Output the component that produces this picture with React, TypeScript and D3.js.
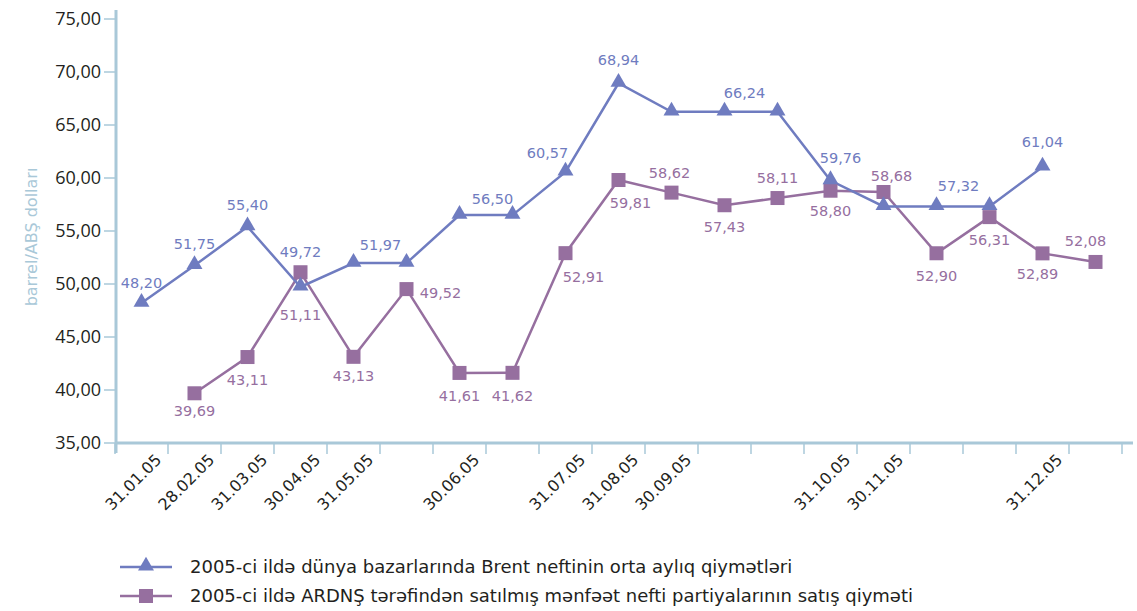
import * as d3 from "d3";
import React from "react";

const categories = [
  "31.01.05", "28.02.05", "31.03.05", "30.04.05", "31.05.05", "",
  "30.06.05", "", "31.07.05", "31.08.05", "30.09.05", "", "",
  "31.10.05", "30.11.05", "", "", "31.12.05", "",
];

// Brent monthly average (no value for the last slot)
const brent = [
  48.2, 51.75, 55.4, 49.72, 51.97, 51.97, 56.5, 56.5, 60.57, 68.94,
  66.24, 66.24, 66.24, 59.76, 57.32, 57.32, 57.32, 61.04, null,
];

// ARDNS selling price (no value for the first slot)
const ardns = [
  null, 39.69, 43.11, 51.11, 43.13, 49.52, 41.61, 41.62, 52.91, 59.81,
  58.62, 57.43, 58.11, 58.8, 58.68, 52.9, 56.31, 52.89, 52.08,
];

const yTicks = [35, 40, 45, 50, 55, 60, 65, 70, 75];

const seriesNames = [
  "2005-ci ildə dünya bazarlarında Brent neftinin orta aylıq qiymətləri",
  "2005-ci ildə ARDNŞ tərəfindən satılmış mənfəət nefti partiyalarının satış qiyməti",
];

// label placement: [point index, dx, dy]
const brentLabelPos = [
  [0, 0, -20], [1, 0, -22], [2, 0, -22], [3, 0, -35], [4, 27, -18],
  [6, 33, -16], [8, -18, -19], [9, 0, -23], [11, 20, -19], [13, 10, -23],
  [15, 22, -20], [17, 0, -25],
];
const ardnsLabelPos = [
  [1, 0, 18], [2, 0, 23], [3, 0, 43], [4, 0, 19], [5, 34, 4], [6, 0, 23],
  [7, 0, 23], [8, 18, 24], [9, 12, 23], [10, -2, -20], [11, 0, 22],
  [12, 0, -20], [13, 0, 20], [14, 8, -16], [15, 0, 23], [16, 0, 23],
  [17, -5, 21], [18, -10, -21],
];

const blue = "#6f7cc0";
const purple = "#966f9f";
const axisColor = "#a9c8d8";
const font = "'Open Sans', sans-serif";
const wide = "'DejaVu Sans', sans-serif";

export default function App() {
  const ref = React.useRef<HTMLDivElement>(null);

  React.useEffect(() => {
    const el = ref.current!;
    el.innerHTML = "";
    const W = 1137, H = 611;

    const svg = d3
      .select(el)
      .append("svg")
      .attr("width", W)
      .attr("height", H)
      .style("position", "absolute")
      .style("left", "0px")
      .style("top", "0px")
      .style("font-family", font);

    const x = d3
      .scaleBand<number>()
      .domain(categories.map((_, i) => i))
      .range([115, 1122]);
    const cx = (i: number) => x(i)! + x.bandwidth() / 2;
    const y = d3.scaleLinear().domain([35, 75]).range([443, 19]);

    const fmt = (v: number) => v.toFixed(2).replace(".", ",");

    // y axis
    svg
      .append("line")
      .attr("x1", 116).attr("x2", 116)
      .attr("y1", 10).attr("y2", 453)
      .attr("stroke", axisColor).attr("stroke-width", 3);
    const yg = svg.append("g");
    yTicks.forEach((t) => {
      yg.append("line")
        .attr("x1", 104).attr("x2", 116)
        .attr("y1", y(t)).attr("y2", y(t))
        .attr("stroke", axisColor).attr("stroke-width", 1.5);
      yg.append("text")
        .attr("x", 101)
        .attr("y", y(t))
        .attr("dy", "0.35em")
        .attr("text-anchor", "end")
        .attr("font-size", 18)
        .attr("fill", "#231f20")
        .text(fmt(t));
    });

    // y axis title
    svg
      .append("text")
      .attr("transform", "translate(37, 237) rotate(-90)")
      .attr("text-anchor", "middle")
      .attr("font-family", wide)
      .attr("font-size", 16)
      .attr("fill", axisColor)
      .text("barrel/ABŞ dolları");

    // x axis
    svg
      .append("line")
      .attr("x1", 115).attr("x2", 1133)
      .attr("y1", 443).attr("y2", 443)
      .attr("stroke", axisColor).attr("stroke-width", 3);
    const xg = svg.append("g");
    d3.range(categories.length + 1).forEach((k) => {
      const px = 115 + k * x.bandwidth();
      xg.append("line")
        .attr("x1", px).attr("x2", px)
        .attr("y1", 443).attr("y2", 454)
        .attr("stroke", axisColor).attr("stroke-width", 1.5);
    });
    categories.forEach((c, i) => {
      if (!c) return;
      xg.append("text")
        .attr("transform", `translate(${cx(i) + 13}, 453) rotate(-45)`)
        .attr("text-anchor", "end")
        .attr("dy", "0.7em")
        .attr("font-family", wide)
        .attr("font-size", 16)
        .attr("fill", "#231f20")
        .text(c);
    });

    const line = d3
      .line<number | null>()
      .defined((d) => d != null)
      .x((_, i) => cx(i))
      .y((d) => y(d as number));

    const triangle = d3.symbol().type(d3.symbolTriangle).size(110);

    // ARDNS series
    svg.append("path")
      .datum(ardns)
      .attr("d", line)
      .attr("fill", "none")
      .attr("stroke", purple)
      .attr("stroke-width", 2.5);
    // Brent series
    svg.append("path")
      .datum(brent)
      .attr("d", line)
      .attr("fill", "none")
      .attr("stroke", blue)
      .attr("stroke-width", 2.5);

    ardns.forEach((v, i) => {
      if (v == null) return;
      svg.append("rect")
        .attr("x", cx(i) - 7).attr("y", y(v) - 7)
        .attr("width", 14).attr("height", 14)
        .attr("fill", purple);
    });
    brent.forEach((v, i) => {
      if (v == null) return;
      svg.append("path")
        .attr("d", triangle)
        .attr("transform", `translate(${cx(i)}, ${y(v) - 1})`)
        .attr("fill", blue);
    });

    const labels = (pos: number[][], vals: (number | null)[], col: string) => {
      pos.forEach(([i, dx, dy]) => {
        const v = vals[i] as number;
        svg.append("text")
          .attr("x", cx(i) + dx)
          .attr("y", y(v) + dy)
          .attr("dy", "0.35em")
          .attr("text-anchor", "middle")
          .attr("font-family", wide)
          .attr("font-size", 14.5)
          .attr("fill", col)
          .text(fmt(v));
      });
    };
    labels(brentLabelPos, brent, blue);
    labels(ardnsLabelPos, ardns, purple);

    // legend
    const legendY = [567, 596];
    [blue, purple].forEach((col, k) => {
      const ly = legendY[k];
      svg.append("line")
        .attr("x1", 120).attr("x2", 172)
        .attr("y1", ly).attr("y2", ly)
        .attr("stroke", col).attr("stroke-width", 2.5);
      if (k === 0) {
        svg.append("path")
          .attr("d", triangle)
          .attr("transform", `translate(146, ${ly - 1})`)
          .attr("fill", col);
      } else {
        svg.append("rect")
          .attr("x", 139).attr("y", ly - 7)
          .attr("width", 14).attr("height", 14)
          .attr("fill", col);
      }
      svg.append("text")
        .attr("x", 190)
        .attr("y", ly)
        .attr("dy", "0.35em")
        .attr("font-family", wide)
        .attr("font-size", 18)
        .attr("fill", "#231f20")
        .text(seriesNames[k]);
    });
  }, []);

  return <div ref={ref}></div>;
}
